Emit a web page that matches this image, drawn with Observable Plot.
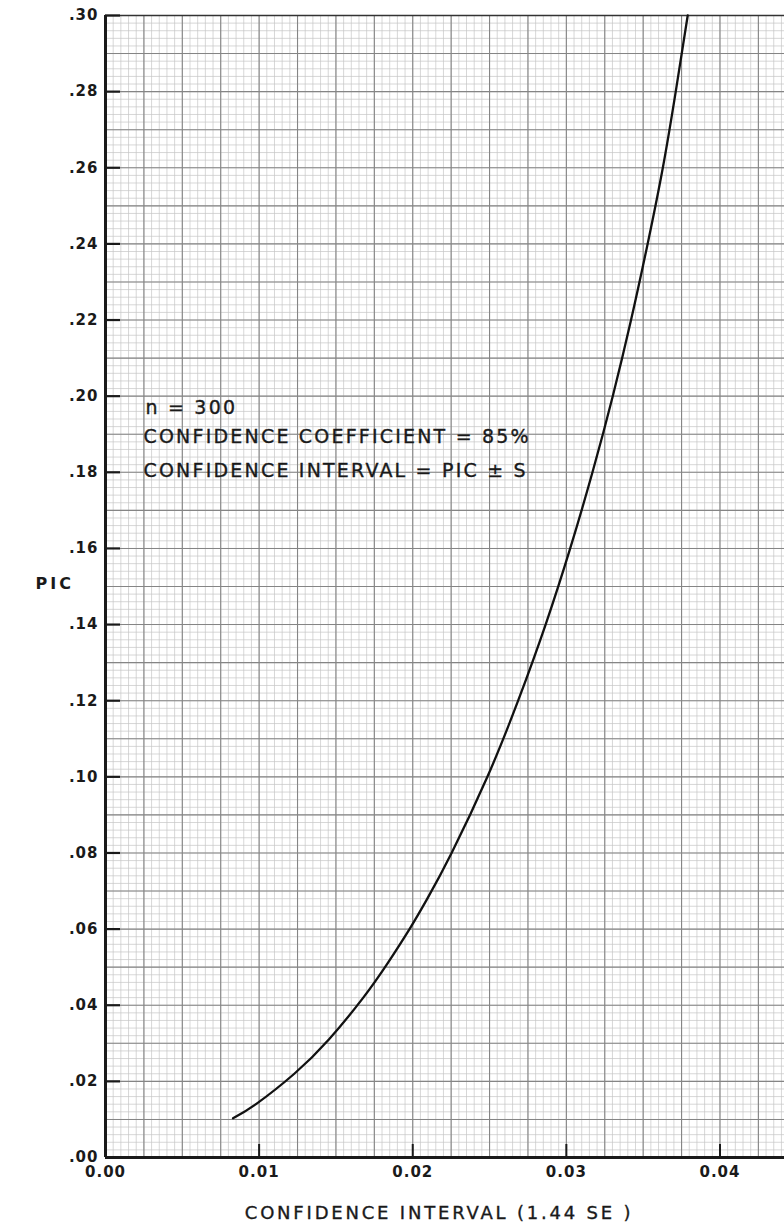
<!DOCTYPE html>
<html>
<head>
<meta charset="utf-8">
<script src="https://cdn.jsdelivr.net/npm/d3@7"></script>
<script src="https://cdn.jsdelivr.net/npm/@observablehq/plot@0.6"></script>
<style>
  body { margin: 0; background: #ffffff; }
  svg { background: #ffffff; }
</style>
</head>
<body>
<div id="chart"></div>
<script>
// ---- data ----
const ciValues  = [0.00830, 0.00982, 0.01229, 0.01454, 0.01678, 0.01836, 0.01979, 0.02095, 0.02253, 0.02486,
                   0.02686, 0.02865, 0.03025, 0.03170, 0.03302, 0.03421, 0.03529, 0.03628, 0.03712, 0.03790];
const picValues = [0.0103, 0.0141, 0.0220, 0.0310, 0.0420, 0.0510, 0.0600, 0.0680, 0.0800, 0.1000,
                   0.1200, 0.1400, 0.1600, 0.1800, 0.2000, 0.2200, 0.2400, 0.2600, 0.2800, 0.3000];
const xTickValues = [0.00, 0.01, 0.02, 0.03, 0.04];
const yTickValues = [0.00, 0.02, 0.04, 0.06, 0.08, 0.10, 0.12, 0.14, 0.16, 0.18, 0.20, 0.22, 0.24, 0.26, 0.28, 0.30];
const annotationLines = ["n = 300", "CONFIDENCE COEFFICIENT = 85%", "CONFIDENCE INTERVAL = PIC ± S"];
const xTitle = "CONFIDENCE INTERVAL (1.44 SE )";
const yTitle = "PIC";

// ---- layout ----
const W = 784, H = 1228;
const mL = 105, mR = 0, mT = 15, mB = 71;
const innerW = W - mL - mR, innerH = H - mT - mB;
const xMax = 0.0442, yMax = 0.30;

const curveData = ciValues.map((ci, i) => ({ci, pic: picValues[i]}));

// graph-paper rulings
const minorX = d3.range(0, 89).map(i => i * 0.0005);
const majorX = d3.range(0, 18).map(i => i * 0.0025);
const minorY = d3.range(0, 151).map(i => i * 0.002);
const majorY = d3.range(0, 31).map(i => i * 0.01);

const font = "'DejaVu Sans', 'Liberation Sans', sans-serif";

const chart = Plot.plot({
  width: W, height: H,
  marginLeft: mL, marginRight: mR, marginTop: mT, marginBottom: mB,
  style: {fontFamily: font, color: "#1a1a1a", background: "#ffffff"},
  x: {domain: [0, xMax]},
  y: {domain: [0, yMax]},
  marks: [
    Plot.gridX(minorX, {stroke: "#c6c6c6", strokeOpacity: 1, strokeWidth: 0.7}),
    Plot.gridY(minorY, {stroke: "#c6c6c6", strokeOpacity: 1, strokeWidth: 0.7}),
    Plot.gridX(majorX, {stroke: "#858585", strokeOpacity: 1, strokeWidth: 1.1}),
    Plot.gridY(majorY, {stroke: "#858585", strokeOpacity: 1, strokeWidth: 1.1}),
    Plot.ruleY([yMax], {stroke: "#333", strokeWidth: 1.6}),
    Plot.ruleX([0], {stroke: "#1a1a1a", strokeWidth: 3}),
    Plot.ruleY([0], {stroke: "#1a1a1a", strokeWidth: 3}),
    Plot.tickY(yTickValues, {y: d => d, insetRight: innerW - 15, stroke: "#1a1a1a", strokeWidth: 2.2}),
    Plot.tickX(xTickValues, {x: d => d, insetTop: innerH - 13, stroke: "#1a1a1a", strokeWidth: 2}),
    Plot.line(curveData, {x: "ci", y: "pic", curve: "natural", stroke: "#111", strokeWidth: 2.3}),
    Plot.axisY(yTickValues, {label: null, tickSize: 0, tickPadding: 7, fontSize: 15, fontWeight: "bold",
      tickFormat: d => d.toFixed(2).slice(1)}),
    Plot.axisX(xTickValues, {label: null, tickSize: 0, tickPadding: 9, fontSize: 15, fontWeight: "bold",
      tickFormat: d => d.toFixed(2)}),
    Plot.text([xTitle], {text: d => d, frameAnchor: "bottom", dx: -6, dy: 56, lineAnchor: "middle",
      fontSize: 18, fill: "#1a1a1a"}),
    Plot.text([yTitle], {text: d => d, frameAnchor: "left", dx: -70, dy: -3, lineAnchor: "middle",
      fontSize: 16, fontWeight: "bold", fill: "#1a1a1a"}),
    Plot.text([annotationLines[0]], {text: d => d, frameAnchor: "top-left", textAnchor: "start",
      dx: 40, dy: 392, lineAnchor: "middle", fontSize: 19, fill: "#1a1a1a"}),
    Plot.text([annotationLines[1]], {text: d => d, frameAnchor: "top-left", textAnchor: "start",
      dx: 38, dy: 421, lineAnchor: "middle", fontSize: 19, fill: "#1a1a1a"}),
    Plot.text([annotationLines[2]], {text: d => d, frameAnchor: "top-left", textAnchor: "start",
      dx: 38, dy: 455, lineAnchor: "middle", fontSize: 19, fill: "#1a1a1a"})
  ]
});

// letter spacing and a slightly heavier stroke to mimic the stencil lettering
d3.select(chart).selectAll("text").each(function() {
  const t = this.textContent;
  let ls = "1px";
  if (annotationLines.includes(t)) ls = "2.2px";
  else if (t === xTitle) ls = "2.8px";
  else if (t === yTitle) ls = "3px";
  this.style.letterSpacing = ls;
  if (annotationLines.includes(t) || t === xTitle) {
    this.setAttribute("stroke", "#1a1a1a");
    this.setAttribute("stroke-width", "0.35");
  }
});

document.getElementById("chart").appendChild(chart);
</script>
</body>
</html>
